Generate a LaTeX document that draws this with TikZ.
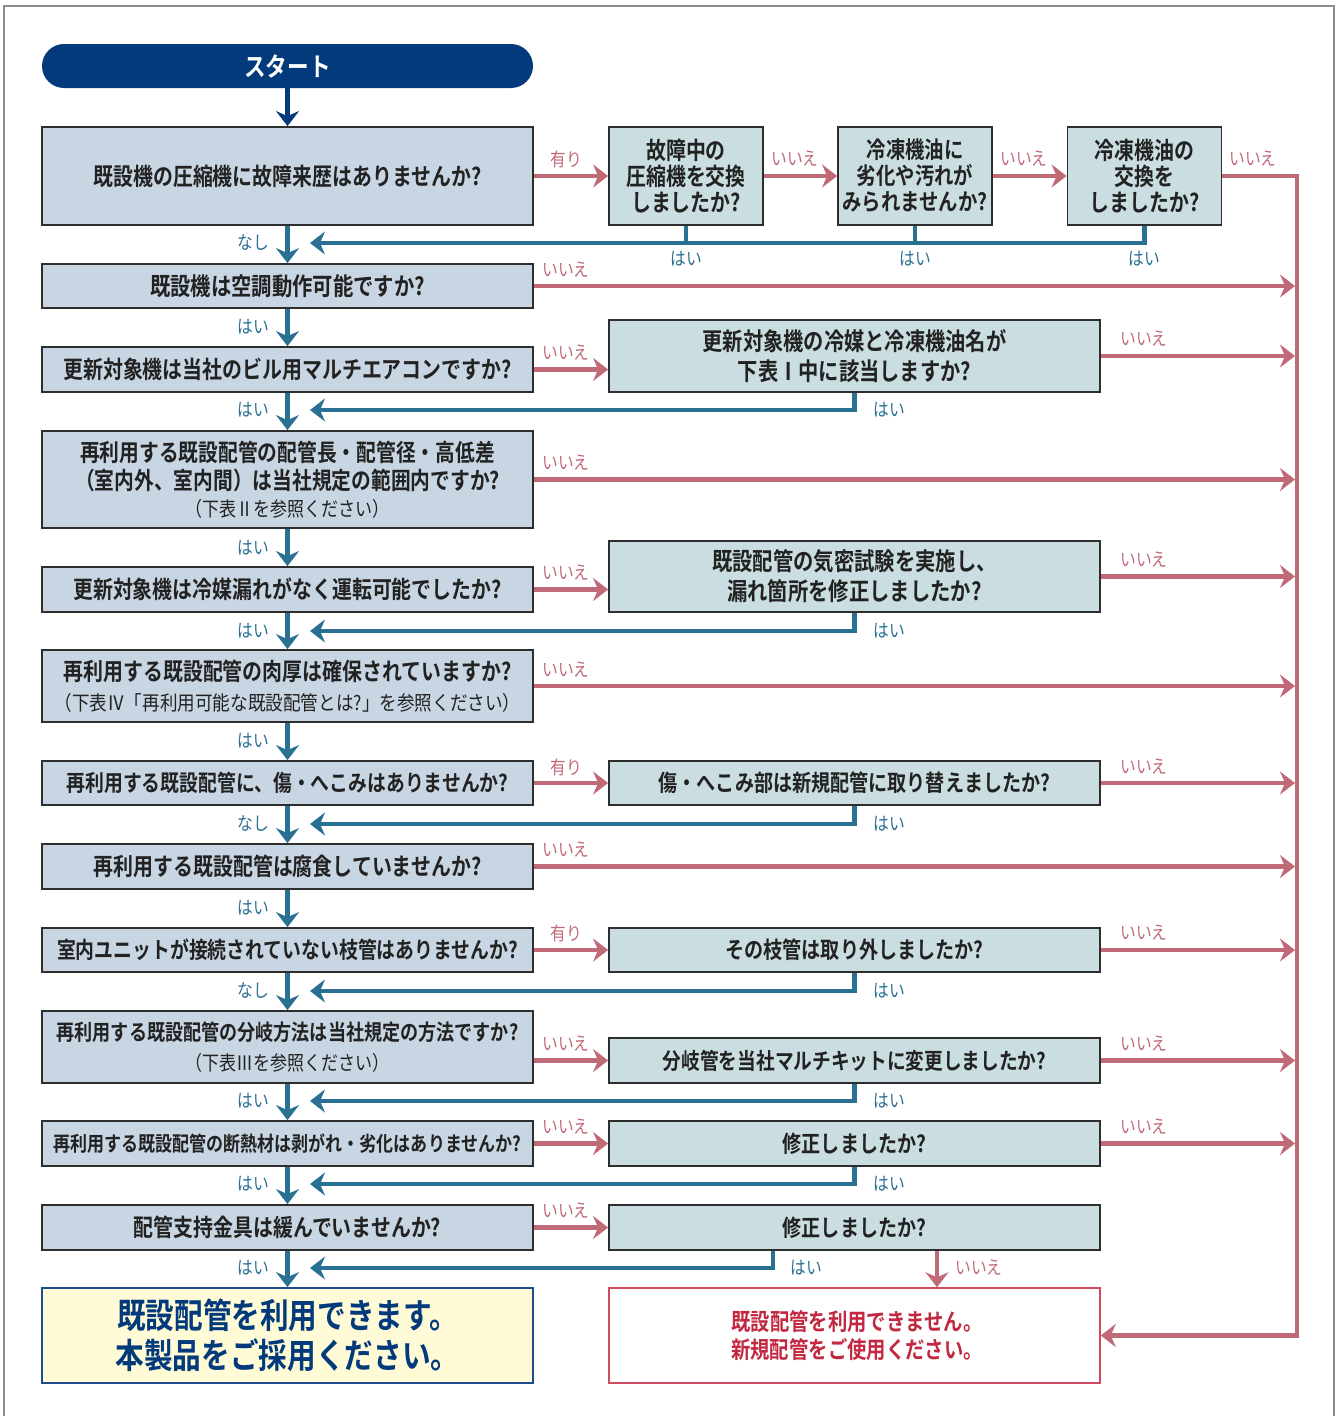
\documentclass[tikz,border=0pt]{standalone}
\usepackage{fontspec}
\newfontfamily\jb[FakeStretch=0.83]{Noto Sans CJK JP Bold}
\newfontfamily\jr[FakeStretch=0.85]{Noto Sans CJK JP}
\usetikzlibrary{arrows.meta}
\definecolor{navy}{HTML}{023A7C}
\definecolor{lfill}{HTML}{C8D5E2}
\definecolor{rfill}{HTML}{CADDE0}
\definecolor{boxline}{HTML}{2E2E2E}
\definecolor{txt}{HTML}{222222}
\definecolor{redl}{HTML}{C06A78}
\definecolor{blul}{HTML}{2A7092}
\definecolor{yesfill}{HTML}{FFFBD6}
\definecolor{yesline}{HTML}{1F4C8C}
\definecolor{noline}{HTML}{D04A62}
\definecolor{notext}{HTML}{C2283F}
\definecolor{frame}{HTML}{8C8C8C}
\tikzset{
  x=1pt, y=-1pt,
  basebox/.style={draw=boxline, line width=1.8pt, inner sep=0pt, align=center, text=txt},
  lbox/.style={basebox, fill=lfill, minimum width=491pt, font=\jb\fontsize{24}{30}\selectfont},
  rbox/.style={basebox, fill=rfill, minimum width=491pt, font=\jb\fontsize{23}{30}\selectfont},
  sbox/.style={basebox, fill=rfill, minimum width=154pt, minimum height=98pt,
    font=\jb\fontsize{24}{26}\selectfont},
  tip/.style={-{Stealth[length=15pt,width=23pt,inset=5pt]}},
  bl/.style={draw=blul, line width=4.5pt},
  rd/.style={draw=redl, line width=4.5pt},
  blarr/.style={bl, tip},
  rdarr/.style={rd, tip},
  lab/.style={font=\jr\fontsize{18.5}{18.5}\selectfont, inner sep=0pt},
  ylab/.style={lab, text=blul},
  nlab/.style={lab, text=redl}
}
\begin{document}
\begin{tikzpicture}
\useasboundingbox (0,0) rectangle (1339,1416);
% frame
\draw[frame, line width=1.2pt] (4,1416) -- (4,6) -- (1334,6) -- (1334,1416);

% start
\node[fill=navy, rounded corners=22pt, minimum width=491pt, minimum height=44pt, inner sep=0pt,
  text=white, font=\jb\fontsize{26}{26}\selectfont] (st) at (287.5,66) {スタート};

% left column
\node[lbox, minimum height=98pt] (b1) at (287.5,176) {既設機の圧縮機に故障来歴はありませんか?};
\node[lbox, minimum height=44pt, font=\jb\fontsize{24.5}{30}\selectfont] (b2) at (287.5,286) {既設機は空調動作可能ですか?};
\node[lbox, minimum height=45pt] (b3) at (287.5,369.5) {更新対象機は当社のビル用マルチエアコンですか?};
\node[lbox, minimum height=97pt, font=\jb\fontsize{23.8}{28}\selectfont] (b4) at (287.5,479.5)
  {再利用する既設配管の配管長・配管径・高低差\\（室内外、室内間）は当社規定の範囲内ですか?\\[-1pt]{\jr\fontsize{20}{25}\selectfont（下表Ⅱを参照ください）}};
\node[lbox, minimum height=45pt] (b5) at (287.5,589.5) {更新対象機は冷媒漏れがなく運転可能でしたか?};
\node[lbox, minimum height=72pt, font=\jb\fontsize{24}{30}\selectfont] (b6) at (287.5,686)
  {再利用する既設配管の肉厚は確保されていますか?\\{\jr\fontsize{20}{20}\selectfont\addfontfeature{FakeStretch=0.88}（下表Ⅳ「再利用可能な既設配管とは?」を参照ください）}};
\node[lbox, minimum height=44pt, font=\jb\fontsize{22.7}{28}\selectfont] (b7) at (287.5,783) {再利用する既設配管に、傷・へこみはありませんか?};
\node[lbox, minimum height=45pt] (b8) at (287.5,866.5) {再利用する既設配管は腐食していませんか?};
\node[lbox, minimum height=44pt, font=\jb\fontsize{22.7}{28}\selectfont] (b9) at (287.5,950) {室内ユニットが接続されていない枝管はありませんか?};
\node[lbox, minimum height=72pt, font=\jb\fontsize{21.8}{30}\selectfont] (b10) at (287.5,1047)
  {再利用する既設配管の分岐方法は当社規定の方法ですか?\\{\jr\fontsize{20}{20}\selectfont（下表Ⅲを参照ください）}};
\node[lbox, minimum height=45pt, font=\jb\fontsize{20.5}{28}\selectfont] (b11) at (287.5,1143.5) {再利用する既設配管の断熱材は剥がれ・劣化はありませんか?};
\node[lbox, minimum height=45pt] (b12) at (287.5,1227.5) {配管支持金具は緩んでいませんか?};
\node[draw=yesline, line width=1.8pt, fill=yesfill, minimum width=491pt, minimum height=95pt,
  inner sep=0pt, align=center, text=navy, font=\jb\fontsize{34.5}{40}\selectfont] (yes) at (287.5,1335.5)
  {既設配管を利用できます。\\本製品をご採用ください。};

% top right small boxes
\node[sbox] (ba) at (686,176) {故障中の\\圧縮機を交換\\しましたか?};
\node[sbox, font=\jb\fontsize{23.3}{26}\selectfont] (bb) at (915,176) {冷凍機油に\\劣化や汚れが\\みられませんか?};
\node[sbox] (bc) at (1144.5,176) {冷凍機油の\\交換を\\しましたか?};

% right column
\node[rbox, minimum height=72pt, font=\jb\fontsize{24.4}{30}\selectfont] (r3) at (854.5,356) {更新対象機の冷媒と冷凍機油名が\\下表Ⅰ中に該当しますか?};
\node[rbox, minimum height=71pt, font=\jb\fontsize{24.5}{30}\selectfont] (r5) at (854.5,576.5) {既設配管の気密試験を実施し、\\漏れ箇所を修正しましたか?};
\node[rbox, minimum height=44pt] (r7) at (854.5,783) {傷・へこみ部は新規配管に取り替えましたか?};
\node[rbox, minimum height=44pt] (r9) at (854.5,950) {その枝管は取り外しましたか?};
\node[rbox, minimum height=45pt, font=\jb\fontsize{22.5}{28}\selectfont] (r10) at (854.5,1060.5) {分岐管を当社マルチキットに変更しましたか?};
\node[rbox, minimum height=45pt] (r11) at (854.5,1143.5) {修正しましたか?};
\node[rbox, minimum height=45pt] (r12) at (854.5,1227.5) {修正しましたか?};
\node[draw=noline, line width=1.5pt, fill=white, minimum width=491pt, minimum height=95pt,
  inner sep=0pt, align=center, text=notext, font=\jb\fontsize{23.3}{28}\selectfont] (no) at (854.5,1335.5)
  {\hspace*{5pt}既設配管を利用できません。\\\hspace*{5pt}新規配管をご使用ください。};

% coordinates
\coordinate (V) at (1297,0);
\coordinate (E) at (1295,0);
\coordinate (m1) at (310,243);
\coordinate (m3) at (310,410);
\coordinate (m5) at (310,631);
\coordinate (m7) at (310,824);
\coordinate (m9) at (310,991);
\coordinate (m10) at (310,1101);
\coordinate (m11) at (310,1184);
\coordinate (m12) at (310,1268);

% start -> b1
\draw[draw=navy, line width=4.5pt, tip] (st.south) -- (b1.north);
% main vertical
\foreach \a/\b in {b1/b2,b2/b3,b3/b4,b4/b5,b5/b6,b6/b7,b7/b8,b8/b9,b9/b10,b10/b11,b11/b12,b12/yes}
  \draw[blarr] (\a.south) -- (\b.north);

% top row
\draw[rdarr] (b1.east) -- (ba.west);
\draw[rdarr] (ba.east) -- (bb.west);
\draw[rdarr] (bb.east) -- (bc.west);
\draw[rdarr] (bc.east) -- (bc.east -| V) |- (no.east);
\draw[bl] (ba.south) -- (ba.south |- m1);
\draw[bl] (bb.south) -- (bb.south |- m1);
\draw[blarr] (bc.south) |- (m1);

% direct red to V
\foreach \a in {b2,b4,b6,b8}
  \draw[rdarr] (\a.east) -- (\a.east -| E);

% left -> right boxes
\draw[rdarr] (b3.east) -- (b3.east -| r3.west);
\draw[rdarr] (b5.east) -- (b5.east -| r5.west);
\draw[rdarr] (b7.east) -- (r7.west);
\draw[rdarr] (b9.east) -- (r9.west);
\draw[rdarr] (b10.east |- r10.west) -- (r10.west);
\draw[rdarr] (b11.east) -- (r11.west);
\draw[rdarr] (b12.east) -- (r12.west);

% right boxes -> V
\foreach \a in {r3,r5,r7,r9,r10,r11}
  \draw[rdarr] (\a.east) -- (\a.east -| E);

% returns
\draw[blarr] (r3.south) |- (m3);
\draw[blarr] (r5.south) |- (m5);
\draw[blarr] (r7.south) |- (m7);
\draw[blarr] (r9.south) |- (m9);
\draw[blarr] (r10.south) |- (m10);
\draw[blarr] (r11.south) |- (m11);
\draw[blarr] ([xshift=-81.5pt]r12.south) |- (m12);
\draw[rdarr] ([xshift=82.5pt]r12.south) -- ([xshift=82.5pt]no.north);

% labels: left column down
\node[ylab] (l1) at (253,243) {なし};
\node[ylab] (l2) at (253,327) {はい};
\node[ylab] (l3) at (253,410) {はい};
\node[ylab] (l4) at (253,548) {はい};
\node[ylab] (l5) at (253,631) {はい};
\node[ylab] (l6) at (253,741) {はい};
\node[ylab] (l7) at (253,824) {なし};
\node[ylab] (l8) at (253,908) {はい};
\node[ylab] (l9) at (253,991) {なし};
\node[ylab] (l10) at (253,1101) {はい};
\node[ylab] (l11) at (253,1184) {はい};
\node[ylab] (l12) at (253,1268) {はい};
% top row
\node[nlab] (t1) at (566,159) {有り};
\node[nlab] (t2) at (795,159) {いいえ};
\node[nlab] (t3) at (1024,159) {いいえ};
\node[nlab] (t4) at (1253,159) {いいえ};
\node[ylab] (h1) at (686,259) {はい};
\node[ylab] (h2) at (915,259) {はい};
\node[ylab] (h3) at (1144,259) {はい};
% red labels after left boxes
\node[nlab] (n2) at (566,270) {いいえ};
\node[nlab] (n3) at (566,353) {いいえ};
\node[nlab] (n4) at (566,463) {いいえ};
\node[nlab] (n5) at (566,573) {いいえ};
\node[nlab] (n6) at (566,670) {いいえ};
\node[nlab] (n7) at (566,767) {有り};
\node[nlab] (n8) at (566,850) {いいえ};
\node[nlab] (n9) at (566,933) {有り};
\node[nlab] (n10) at (566,1044) {いいえ};
\node[nlab] (n11) at (566,1127) {いいえ};
\node[nlab] (n12) at (566,1211) {いいえ};
% red labels after right boxes
\node[nlab] (q3) at (1144,339) {いいえ};
\node[nlab] (q5) at (1144,560) {いいえ};
\node[nlab] (q7) at (1144,767) {いいえ};
\node[nlab] (q9) at (1144,933) {いいえ};
\node[nlab] (q10) at (1144,1044) {いいえ};
\node[nlab] (q11) at (1144,1127) {いいえ};
% yes labels under right boxes
\node[ylab] (y3) at (889,410) {はい};
\node[ylab] (y5) at (889,631) {はい};
\node[ylab] (y7) at (889,824) {はい};
\node[ylab] (y9) at (889,991) {はい};
\node[ylab] (y10) at (889,1101) {はい};
\node[ylab] (y11) at (889,1184) {はい};
\node[ylab] (y12) at (806,1268) {はい};
\node[nlab] (z12) at (979,1268) {いいえ};
\end{tikzpicture}
\end{document}
